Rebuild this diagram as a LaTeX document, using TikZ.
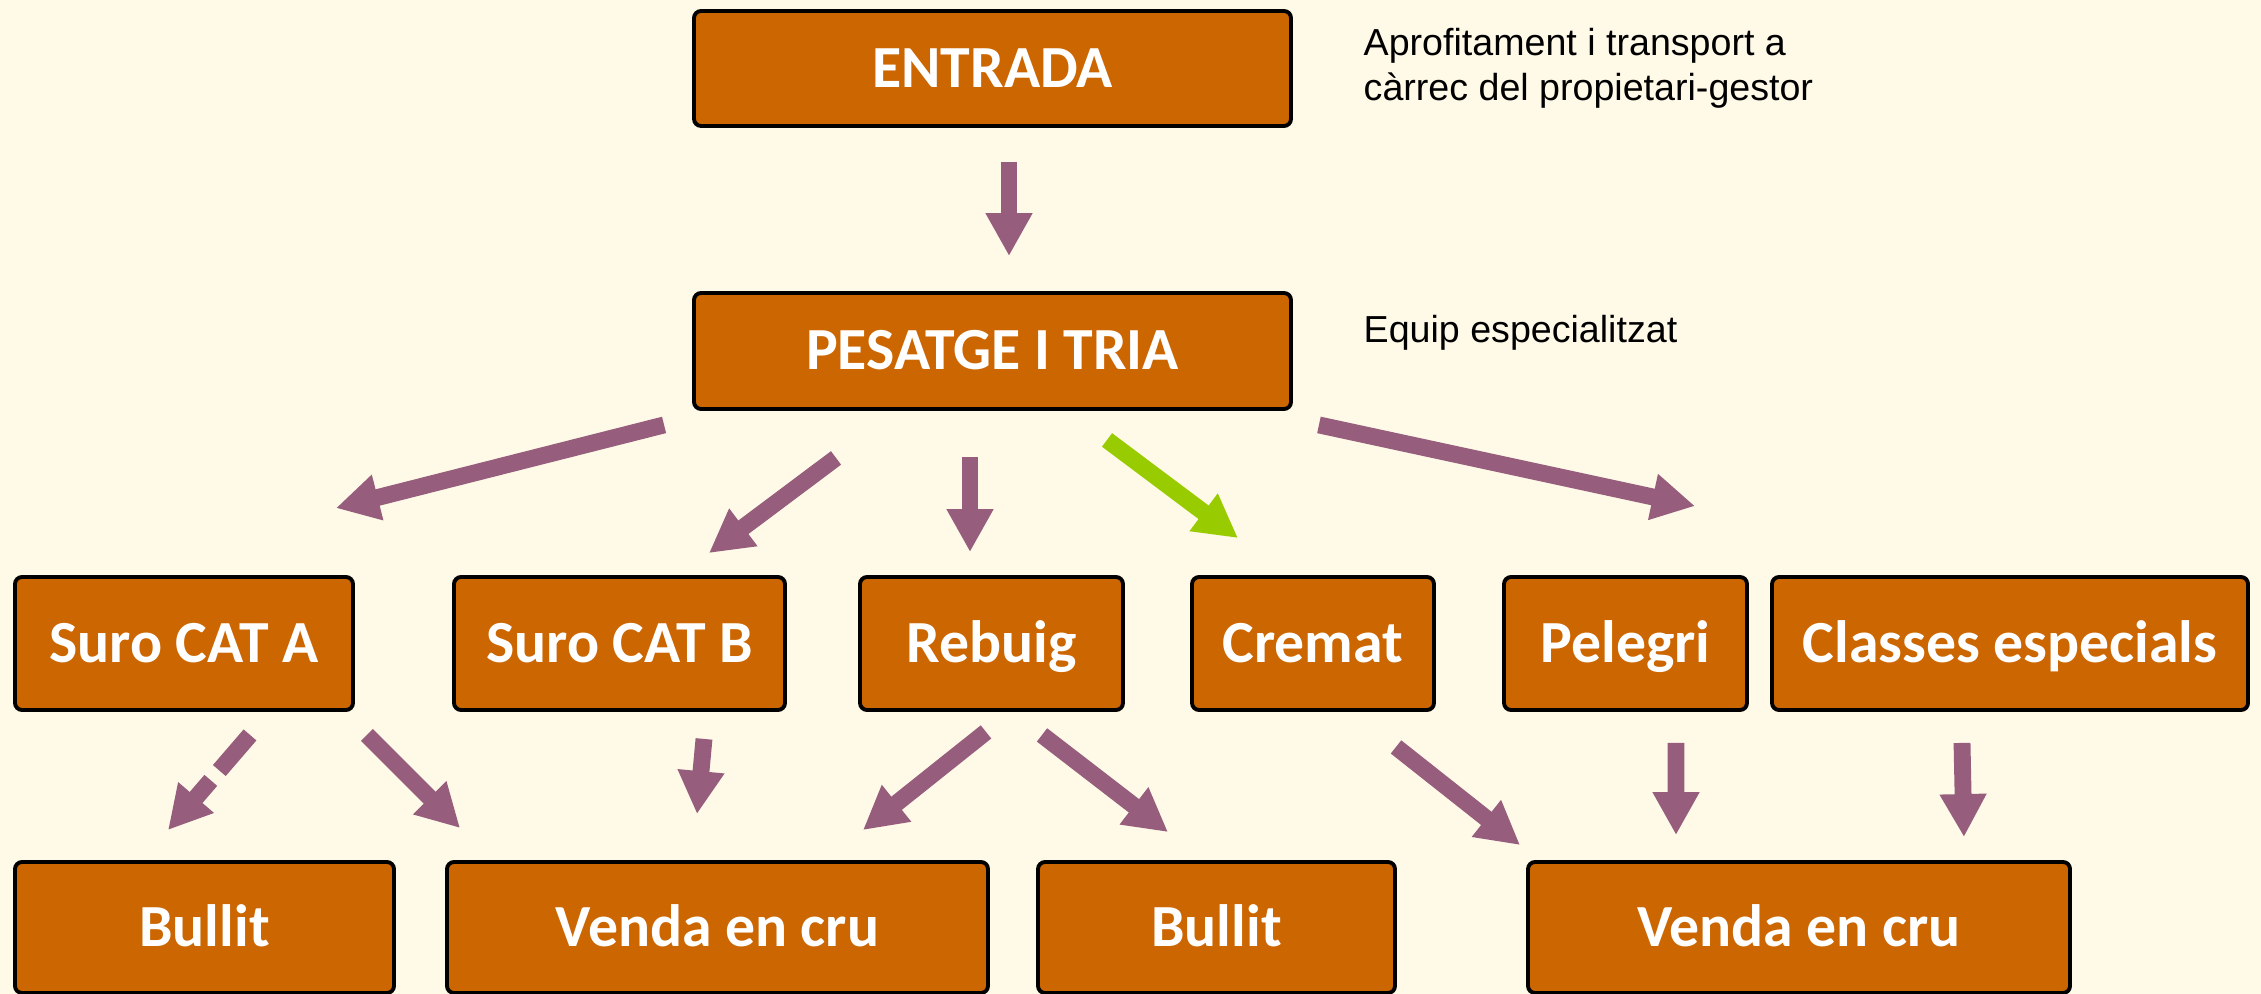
\documentclass[tikz,border=0pt]{standalone}
\usepackage{fontspec}
\setmainfont{Carlito}
\newfontfamily\notefont{Liberation Sans}
\usetikzlibrary{arrows.meta}
\definecolor{cork}{HTML}{CC6600}
\definecolor{plum}{HTML}{965E7C}
\definecolor{greenarrow}{HTML}{99CC00}
\definecolor{cream}{HTML}{FFF9E8}
\begin{document}
\begin{tikzpicture}[>={Triangle[length=4.3mm,width=4.4mm]}, line join=round,
  box/.style={draw=black, line width=1.1pt, fill=cork, rounded corners=2pt, text=white,
    font=\bfseries\fontsize{17}{20}\selectfont, inner sep=0pt, text height=10.7pt, text depth=0pt},
  note/.style={font=\notefont\fontsize{10.7}{12.8}\selectfont, align=left, inner sep=0pt, anchor=north west},
  arr/.style={->, draw=plum, line width=4.8pt},
  arrgreen/.style={arr, draw=greenarrow}]
\fill[cream] (0,0) rectangle (22.61,-9.94);
\useasboundingbox (0,0) rectangle (22.61,-9.94);
% top
\node[box, minimum width=5.97cm, minimum height=1.15cm] (entrada) at (9.925,-0.685) {ENTRADA};
\node[box, minimum width=5.97cm, minimum height=1.16cm] (pesatge) at (9.925,-3.51) {PESATGE I TRIA};
\node[note] (noteA) at (13.63,-0.275) {Aprofitament i transport a\\càrrec del propietari-gestor};
\node[note] (noteB) at (13.63,-3.15) {Equip especialitzat};
% classes
\node[box, minimum width=3.38cm, minimum height=1.33cm] (suroA) at (1.84,-6.435) {Suro CAT A};
\node[box, minimum width=3.31cm, minimum height=1.33cm] (suroB) at (6.195,-6.435) {Suro CAT B};
\node[box, minimum width=2.63cm, minimum height=1.33cm] (rebuig) at (9.915,-6.435) {Rebuig};
\node[box, minimum width=2.42cm, minimum height=1.33cm] (cremat) at (13.13,-6.435) {Cremat};
\node[box, minimum width=2.43cm, minimum height=1.33cm] (pelegri) at (16.255,-6.435) {Pelegri};
\node[box, minimum width=4.76cm, minimum height=1.33cm] (classes) at (20.10,-6.435) {Classes especials};
% destins
\node[box, minimum width=3.79cm, minimum height=1.31cm] (bullitA) at (2.045,-9.275) {Bullit};
\node[box, minimum width=5.41cm, minimum height=1.31cm] (vendaA) at (7.175,-9.275) {Venda en cru};
\node[box, minimum width=3.57cm, minimum height=1.31cm] (bullitB) at (12.165,-9.275) {Bullit};
\node[box, minimum width=5.42cm, minimum height=1.31cm] (vendaB) at (17.99,-9.275) {Venda en cru};
% fletxes
\draw[arr] ([shift={(0.165,-0.34)}]entrada.south) -- ([shift={(0.165,0.35)}]pesatge.north);
\draw[arr] ([shift={(-0.28,-0.14)}]pesatge.south west) -- ([shift={(-0.19,0.67)}]suroA.north east);
\draw[arr] ([shift={(-1.565,-0.47)}]pesatge.south) -- ([shift={(-0.78,0.22)}]suroB.north east);
\draw[arr] ([shift={(-0.225,-0.46)}]pesatge.south) -- ([shift={(-0.215,0.23)}]rebuig.north);
\draw[arrgreen] ([shift={(1.145,-0.29)}]pesatge.south) -- ([shift={(-0.75,0.37)}]cremat.north);
\draw[arr] ([shift={(0.26,-0.14)}]pesatge.south east) -- ([shift={(0.695,0.69)}]pelegri.north);
\draw[arr, dash pattern=on 4.7mm off 1.3mm on 20mm] ([shift={(0.66,-0.23)}]suroA.south) -- ([shift={(-0.365,0.30)}]bullitA.north);
\draw[arr] ([shift={(0.12,-0.23)}]suroA.south east) -- ([shift={(0.15,0.32)}]vendaA.north west);
\draw[arr] ([shift={(0.845,-0.27)}]suroB.south) -- ([shift={(-0.205,0.46)}]vendaA.north);
\draw[arr] ([shift={(-0.055,-0.20)}]rebuig.south) -- ([shift={(-1.27,0.30)}]vendaA.north east);
\draw[arr] ([shift={(0.505,-0.23)}]rebuig.south) -- ([shift={(-0.485,0.28)}]bullitB.north);
\draw[arr] ([shift={(0.83,-0.35)}]cremat.south) -- ([shift={(-0.06,0.15)}]vendaB.north west);
\draw[arr] ([shift={(0.505,-0.31)}]pelegri.south) -- ([shift={(-1.23,0.25)}]vendaB.north);
\draw[arr] ([shift={(-0.48,-0.31)}]classes.south) -- ([shift={(-1.08,0.23)}]vendaB.north east);
\end{tikzpicture}
\end{document}
